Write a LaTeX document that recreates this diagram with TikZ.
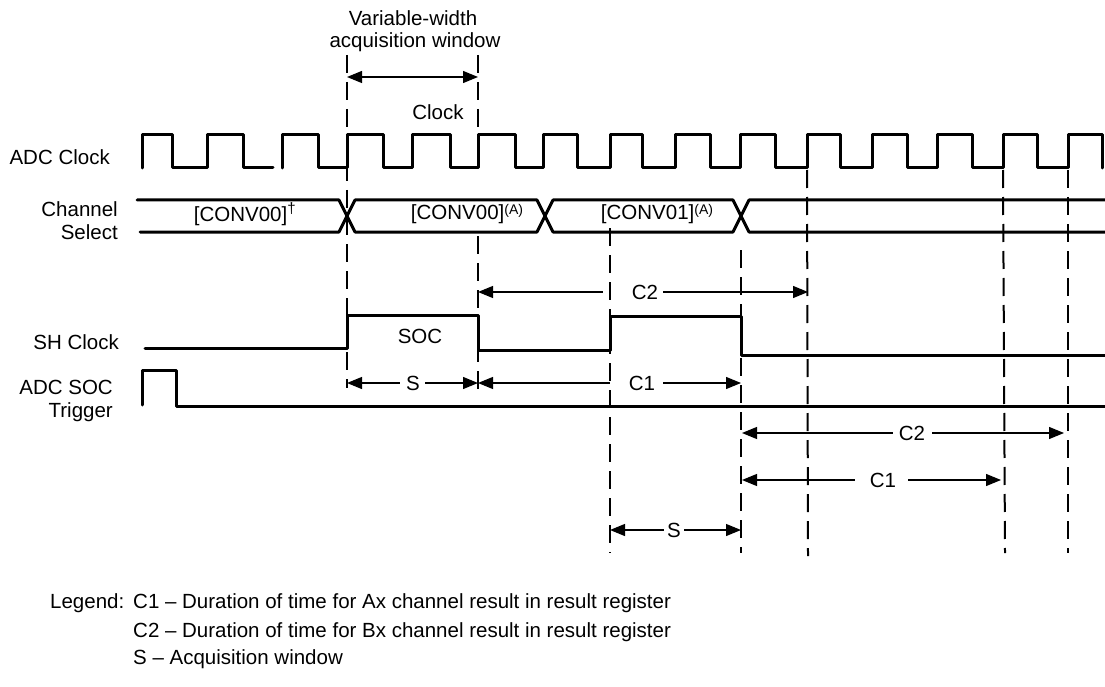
\documentclass[tikz,border=0pt]{standalone}
\usepackage{fontspec}
\setmainfont{Liberation Sans}
\usetikzlibrary{arrows.meta}
\begin{document}
\begin{tikzpicture}[x=1pt,y=-1pt,
  sig/.style={line width=3pt,line join=round,line cap=round},
  guide/.style={line width=2pt,dash pattern=on 18pt off 9pt},
  dim/.style={line width=1.2pt},
  tip/.tip={Triangle[length=15pt,width=12pt]},
  lab/.style={font=\fontsize{20.5}{24}\selectfont,inner sep=0pt},
  sup/.style={font=\fontsize{14}{16}\selectfont}]
\useasboundingbox (0,0) rectangle (1105,687);

% ---------- row labels
\node[lab,anchor=east] (lclk) at (110,157) {ADC Clock};
\node[lab,anchor=east,align=right] (lch) at (118,221) {Channel\\[-1pt]Select};
\node[lab,anchor=east] (lsh) at (119,342) {SH Clock};
\node[lab,anchor=east,align=right] (lsoc) at (113,401) {ADC SOC\\[-1pt]Trigger};

% ---------- top annotation
\node[lab] (vw1) at (413,18) {Variable-width};
\node[lab] (vw2) at (415,42) {acquisition window};
\node[lab] (clk) at (438,112) {Clock};

% ---------- guide (dashed) lines
\coordinate (g1t) at (347,55);  \coordinate (g1b) at (347,388);
\coordinate (g2t) at (478,55);  \coordinate (g2m) at (478,135);
\coordinate (g2n) at (478,236); \coordinate (g2b) at (478,397);
\coordinate (g3t) at (610,228); \coordinate (g3b) at (610,553);
\coordinate (g4t) at (741,250); \coordinate (g4b) at (741,553);
\coordinate (g5t) at (807,170); \coordinate (g5b) at (808,556);
\coordinate (g6t) at (1003,170); \coordinate (g6b) at (1005,553);
\coordinate (g7t) at (1068,170); \coordinate (g7b) at (1068,553);
\draw[guide] (g1t) -- (g1b);
\draw[guide] (g2t) -- (g2m);
\draw[guide] (g2n) -- (g2b);
\draw[guide] (g3t) -- (g3b);
\draw[guide] (g4t) -- (g4b);
\draw[guide] (g5t) -- (g5b);
\draw[guide] (g6t) -- (g6b);
\draw[guide] (g7t) -- (g7b);

% ---------- ADC clock
\draw[sig] (142,168) -- (142,135) -- (172,135) -- (172,168) -- (207,168) -- (207,135)
  -- (243,135) -- (243,168) -- (273,168);
\draw[sig] (282,168) -- (282,135) -- (318,135) -- (318,168) -- (347,168) -- (347,135)
  -- (383,135) -- (383,168) -- (412,168) -- (412,135) -- (450,135) -- (450,168)
  -- (478,168) -- (478,135) -- (515,135) -- (515,168) -- (543,168) -- (543,135)
  -- (577,135) -- (577,168) -- (610,168) -- (610,135) -- (642,135) -- (642,168)
  -- (675,168) -- (675,135) -- (710,135) -- (710,168) -- (740,168) -- (740,135)
  -- (775,135) -- (775,168) -- (807,168) -- (807,135) -- (840,135) -- (840,168)
  -- (872,168) -- (872,135) -- (907,135) -- (907,168) -- (937,168) -- (937,135)
  -- (972,135) -- (972,168) -- (1003,168) -- (1003,135) -- (1037,135) -- (1037,168)
  -- (1068,168) -- (1068,135) -- (1102,135) -- (1102,168);

% ---------- channel select
\draw[sig] (137,200) -- (339,200) -- (355,232) -- (537,232) -- (553,200) -- (733,200)
  -- (749,232) -- (1105,232);
\draw[sig] (140,232) -- (339,232) -- (355,200) -- (537,200) -- (553,232) -- (733,232)
  -- (749,200) -- (1105,200);
\node[lab] (cv0) at (245,214) {[CONV00]\textsuperscript{\fontsize{15}{16}\selectfont\dag}};
\node[lab] (cv1) at (467,214) {[CONV00]\raisebox{5pt}{\fontsize{14}{16}\selectfont(A)}};
\node[lab] (cv2) at (657,214) {[CONV01]\raisebox{5pt}{\fontsize{14}{16}\selectfont(A)}};

% ---------- SH clock
\draw[sig] (145,348) -- (347,348) -- (347,315) -- (478,315) -- (478,350) -- (610,350)
  -- (610,316) -- (741,316) -- (741,355) -- (1105,355);
\node[lab] (soc) at (420,336) {SOC};

% ---------- ADC SOC trigger
\draw[sig] (142,405) -- (142,370) -- (176,370) -- (176,406) -- (1105,406);

% ---------- dimension arrows
% acquisition window
\coordinate (aw1) at (347,77); \coordinate (aw2) at (478,77);
\draw[dim,{tip}-{tip}] (aw1) -- (aw2);

% upper C2
\coordinate (uc2a) at (478,292); \coordinate (uc2b) at (603,292);
\coordinate (uc2c) at (663,292); \coordinate (uc2d) at (808,292);
\node[lab] (uc2) at (645,292) {C2};
\draw[dim,{tip}-] (uc2a) -- (uc2b);
\draw[dim,-{tip}] (uc2c) -- (uc2d);

% upper S
\coordinate (usa) at (347,383); \coordinate (usb) at (400,383);
\coordinate (usc) at (425,383); \coordinate (usd) at (478,383);
\node[lab] (us) at (413,383) {S};
\draw[dim,{tip}-] (usa) -- (usb);
\draw[dim,-{tip}] (usc) -- (usd);

% upper C1
\coordinate (uc1a) at (478,383); \coordinate (uc1b) at (610,383);
\coordinate (uc1c) at (663,383); \coordinate (uc1d) at (741,383);
\node[lab] (uc1) at (642,383) {C1};
\draw[dim,{tip}-] (uc1a) -- (uc1b);
\draw[dim,-{tip}] (uc1c) -- (uc1d);

% lower C2
\coordinate (lc2a) at (742,433); \coordinate (lc2b) at (893,433);
\coordinate (lc2c) at (932,433); \coordinate (lc2d) at (1064,433);
\node[lab] (lc2) at (912,433) {C2};
\draw[dim,{tip}-] (lc2a) -- (lc2b);
\draw[dim,-{tip}] (lc2c) -- (lc2d);

% lower C1
\coordinate (lc1a) at (742,480); \coordinate (lc1b) at (855,480);
\coordinate (lc1c) at (908,480); \coordinate (lc1d) at (1001,480);
\node[lab] (lc1) at (883,480) {C1};
\draw[dim,{tip}-] (lc1a) -- (lc1b);
\draw[dim,-{tip}] (lc1c) -- (lc1d);

% lower S
\coordinate (lsa) at (610,530); \coordinate (lsb) at (664,530);
\coordinate (lsc) at (684,530); \coordinate (lsd) at (741,530);
\node[lab] (ls) at (674,530) {S};
\draw[dim,{tip}-] (lsa) -- (lsb);
\draw[dim,-{tip}] (lsc) -- (lsd);

% ---------- legend
\node[lab,anchor=west] (leg) at (50,603) {Legend:};
\node[lab,anchor=west] (leg1) at (133,603) {C1 -- Duration of time for Ax channel result in result register};
\node[lab,anchor=west] (leg2) at (133,632) {C2 -- Duration of time for Bx channel result in result register};
\node[lab,anchor=west] (leg3) at (133,659) {S -- Acquisition window};
\end{tikzpicture}
\end{document}
